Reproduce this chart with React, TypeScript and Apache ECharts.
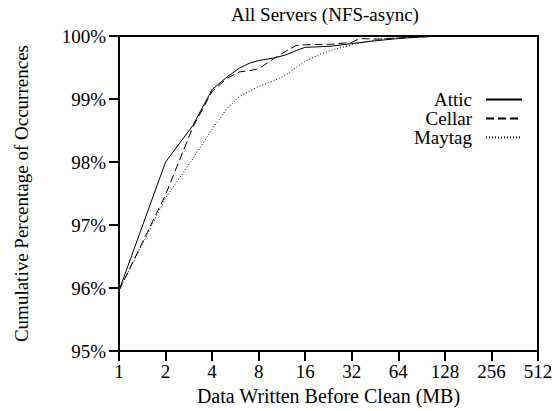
import React, { useEffect, useRef } from "react";
import * as echarts from "echarts";

// Cumulative distribution of data written before a clean, per server (MB on a log2 axis)
const atticX = [1, 2, 3, 4, 5, 6, 7, 8, 10, 12, 14, 16, 20, 24, 32, 48, 64, 96, 128, 200];
const atticY = [95.96, 98.0, 98.58, 99.15, 99.35, 99.49, 99.57, 99.61, 99.65, 99.7, 99.77, 99.82, 99.83, 99.84, 99.88, 99.93, 99.96, 99.99, 100, 100];

const cellarX = [1, 2, 3, 4, 5, 6, 7, 8, 10, 12, 14, 16, 24, 32, 36, 48, 64, 128, 200];
const cellarY = [95.96, 97.48, 98.55, 99.12, 99.33, 99.43, 99.45, 99.48, 99.64, 99.76, 99.85, 99.86, 99.87, 99.9, 99.96, 99.95, 99.97, 100, 100];

const maytagX = [1, 2, 3, 4, 5, 6, 8, 10, 12, 14, 16, 20, 24, 32, 48, 64, 96, 128, 320];
const maytagY = [95.96, 97.43, 98.05, 98.52, 98.85, 99.04, 99.2, 99.29, 99.38, 99.5, 99.6, 99.71, 99.78, 99.86, 99.95, 99.97, 99.99, 100, 100];

const seriesNames = ["Attic", "Cellar", "Maytag"];
const yTickMin = 95;
const yTickMax = 100;
const xMin = 1;
const xMax = 512;

const FONT = "'Liberation Serif', 'Times New Roman', 'DejaVu Serif', serif";
const FS = 19;

const pairs = (xs: number[], ys: number[]) => xs.map((x, i) => [x, ys[i]]);

export default function App() {
  const ref = useRef<HTMLDivElement>(null);

  useEffect(() => {
    if (!ref.current) return;
    const chart = echarts.init(ref.current, undefined, { renderer: "svg" });
    const textBase = { fontFamily: FONT, color: "#000" };
    const lineDefs: { name: string; data: number[][]; type: any }[] = [
      { name: seriesNames[0], data: pairs(atticX, atticY), type: "solid" },
      { name: seriesNames[1], data: pairs(cellarX, cellarY), type: [8, 4] },
      { name: seriesNames[2], data: pairs(maytagX, maytagY), type: [1, 2] },
    ];
    chart.setOption({
      animation: false,
      backgroundColor: "#fff",
      textStyle: { fontFamily: FONT },
      title: {
        text: "All Servers (NFS-async)",
        left: 325,
        textAlign: "center",
        top: 5,
        padding: 0,
        textStyle: { ...textBase, fontSize: FS, fontWeight: "normal" },
      },
      grid: {
        left: 119,
        right: 18,
        top: 36,
        bottom: 52,
        show: true,
        borderColor: "#000",
        borderWidth: 2,
        containLabel: false,
      },
      legend: {
        data: seriesNames,
        orient: "vertical",
        align: "right",
        right: 33,
        top: 90,
        padding: 0,
        itemWidth: 36,
        itemHeight: 14,
        itemGap: 0,
        itemStyle: { opacity: 0 },
        textStyle: { ...textBase, fontSize: FS, lineHeight: 19, padding: [0, 9, 0, 0] },
        selectedMode: false,
      },
      xAxis: {
        type: "log",
        logBase: 2,
        min: xMin,
        max: xMax,
        name: "Data Written Before Clean (MB)",
        nameLocation: "middle",
        nameGap: 29,
        nameTextStyle: { ...textBase, fontSize: 20 },
        axisLine: { lineStyle: { color: "#000", width: 2 } },
        axisTick: { show: true, length: 10, lineStyle: { color: "#000", width: 2 } },
        axisLabel: { ...textBase, fontSize: FS, margin: 11 },
        splitLine: { show: false },
        minorTick: { show: false },
      },
      yAxis: {
        type: "value",
        min: yTickMin,
        max: yTickMax,
        interval: 1,
        name: "Cumulative Percentage of Occurrences",
        nameLocation: "middle",
        nameGap: 88,
        nameTextStyle: { ...textBase, fontSize: FS },
        axisLine: { show: true, lineStyle: { color: "#000", width: 2 } },
        axisTick: { show: true, length: 10, lineStyle: { color: "#000", width: 2 } },
        axisLabel: { ...textBase, fontSize: FS, margin: 13, formatter: "{value}%" },
        splitLine: { show: false },
      },
      series: lineDefs.map((d) => ({
        name: d.name,
        type: "line",
        data: d.data,
        symbol: "none",
        showSymbol: false,
        lineStyle: { color: "#000", width: 1, type: d.type },
        itemStyle: { color: "#000" },
      })),
    });
    return () => chart.dispose();
  }, []);

  return (
    <div
      ref={ref}
      style={{ position: "fixed", left: 0, top: 0, width: 556, height: 411, background: "#fff" }}
    />
  );
}
